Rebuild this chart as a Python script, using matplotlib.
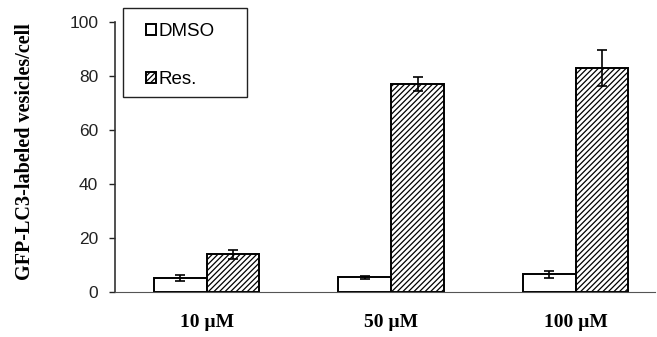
import matplotlib
matplotlib.use("Agg")
import matplotlib.pyplot as plt
from matplotlib.patches import Rectangle
import numpy as np

categories = ["10 µM", "50 µM", "100 µM"]
dmso = [5.2, 5.5, 6.5]
dmso_err = [1.0, 0.5, 1.3]
res = [14.0, 77.0, 83.0]
res_err = [1.6, 2.6, 6.8]
yticks = [0, 20, 40, 60, 80, 100]

W, H = 657, 337
plt.rcParams['hatch.linewidth'] = 0.9
fig = plt.figure(figsize=(W/100, H/100), dpi=100)
ax = fig.add_axes([115/W, 1-292/H, 540/W, 270/H])
x = np.arange(len(categories))
w = 0.286
ax.bar(x - w/2, dmso, w, color='white', edgecolor='black', linewidth=1.4,
       yerr=dmso_err, capsize=3.5, error_kw=dict(elinewidth=1.2, capthick=1.2), label='DMSO')
ax.bar(x + w/2, res, w, color='white', edgecolor='black', linewidth=1.4, hatch='//////',
       yerr=res_err, capsize=3.5, error_kw=dict(elinewidth=1.2, capthick=1.2), label='Res.')
ax.set_xlim(-0.497, 2.43)
ax.set_ylim(0, 100)
ax.set_yticks(yticks)
ax.set_yticklabels([str(v) for v in yticks], fontfamily='Liberation Sans', fontsize=12.5)
ax.set_xticks(x)
ax.set_xticklabels(categories, fontfamily='Liberation Serif', fontweight='bold', fontsize=14)
ax.tick_params(axis='x', length=0, pad=16)
ax.tick_params(axis='y', length=4, width=1, direction='out', pad=8, colors='#222222')
for s in ['top', 'right']:
    ax.spines[s].set_visible(False)
ax.spines['left'].set_linewidth(1.2)
ax.spines['left'].set_color('#333333')
ax.spines['bottom'].set_linewidth(0.8)
ax.spines['bottom'].set_color('#555555')
fig.text(25/W, 0.55, "GFP-LC3-labeled vesicles/cell", family='Liberation Serif',
         fontweight='bold', fontsize=14.5, rotation=90, ha='center', va='center')
leg = ax.legend(loc='upper left', bbox_to_anchor=(146/W, 1-23/H), bbox_transform=fig.transFigure,
                frameon=False, prop={'family': 'Liberation Sans', 'size': 13.5},
                handlelength=0.55, handleheight=0.55, handletextpad=0.12, labelspacing=1.65,
                borderpad=0, borderaxespad=0)
fig.patches.append(Rectangle((123/W, 1-97/H), 124/W, 89/H, transform=fig.transFigure,
                             fill=False, edgecolor='#222222', linewidth=1.0))
fig.savefig("out.png", dpi=100)
